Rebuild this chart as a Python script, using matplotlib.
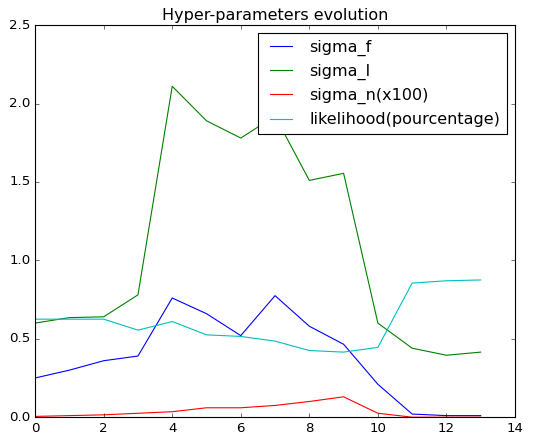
import matplotlib
matplotlib.use("Agg")
import matplotlib.pyplot as plt

plt.style.use("classic")

# iterations
iters = list(range(14))

# hyper-parameter values
sigma_f = [0.25, 0.30, 0.36, 0.39, 0.76, 0.66, 0.52, 0.775, 0.58, 0.465, 0.21, 0.02, 0.01, 0.01]
sigma_l = [0.60, 0.635, 0.64, 0.78, 2.11, 1.89, 1.78, 1.92, 1.51, 1.555, 0.60, 0.44, 0.395, 0.415]
sigma_n = [0.005, 0.01, 0.015, 0.025, 0.035, 0.06, 0.06, 0.075, 0.10, 0.13, 0.025, 0.0, 0.0, 0.0]
likelihood = [0.625, 0.625, 0.625, 0.555, 0.61, 0.525, 0.515, 0.485, 0.425, 0.415, 0.445, 0.855, 0.87, 0.875]

# 80 dpi like the old default, so fonts and lines come out at the same scale
fig = plt.figure(figsize=(549 / 80, 441 / 80), dpi=80, facecolor="white")
ax = fig.add_subplot(111)
fig.subplots_adjust(left=0.064, right=0.938, bottom=0.054, top=0.943)

ax.plot(iters, sigma_f, "b", label="sigma_f")
ax.plot(iters, sigma_l, "g", label="sigma_l")
ax.plot(iters, sigma_n, "r", label="sigma_n(x100)")
ax.plot(iters, likelihood, "c", label="likelihood(pourcentage)")

ax.set_xlim(0, 14)
ax.set_ylim(0, 2.5)
ax.set_title("Hyper-parameters evolution")
ax.legend(loc="upper right")

fig.savefig("out.png", dpi=80, facecolor="white")
